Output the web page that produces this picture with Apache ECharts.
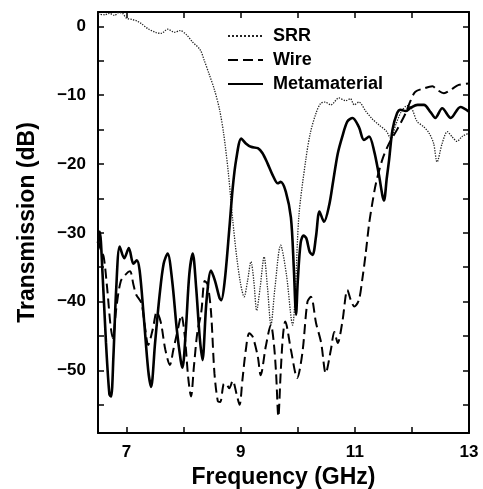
<!DOCTYPE html>
<html><head><meta charset="utf-8">
<script src="https://cdn.jsdelivr.net/npm/echarts@6/dist/echarts.min.js"></script>
<style>html,body{margin:0;padding:0;background:#fff}#c{width:483px;height:489px}</style>
</head><body><div id="c"></div>
<script>
// ---- data ----
var srrFreq = [6.50,6.62,6.70,6.79,6.86,6.93,7.00,7.10,7.18,7.26,7.37,7.52,7.61,7.72,7.84,7.94,8.05,8.15,8.29,8.36,8.45,8.54,8.63,8.70,8.78,8.86,8.93,9.00,9.06,9.12,9.18,9.23,9.28,9.34,9.41,9.47,9.53,9.60,9.70,9.80,9.91,9.96,10.02,10.14,10.22,10.32,10.40,10.48,10.58,10.72,10.84,10.92,10.99,11.07,11.19,11.30,11.42,11.55,11.63,11.72,11.82,11.92,12.00,12.09,12.21,12.30,12.38,12.44,12.53,12.62,12.70,12.79,12.88,13.00];
var srrDb   = [1.8,1.7,1.9,1.6,2.0,1.9,1.2,1.0,0.8,0.4,-0.3,-0.9,-1.0,-0.4,-0.85,-0.6,-1.2,-2.2,-3.4,-4.9,-7.0,-9.2,-12.1,-15.5,-21,-28.1,-33.5,-37.5,-39.3,-37,-34.2,-37,-41.3,-38,-33.5,-38,-43.4,-38,-31.8,-36,-43.4,-38,-27.5,-19.4,-15.5,-12.6,-11.2,-11.0,-11.4,-10.4,-10.8,-10.5,-11.4,-11.0,-12.3,-13.4,-14.3,-15.2,-16.3,-14.2,-12.3,-11.5,-12.0,-13.8,-14.6,-15.5,-17.0,-19.7,-17.0,-15.3,-16.0,-16.7,-16.0,-15.5];

var wireFreq = [6.50,6.55,6.60,6.66,6.72,6.76,6.82,6.90,6.99,7.06,7.12,7.17,7.26,7.32,7.38,7.46,7.53,7.60,7.68,7.76,7.82,7.90,7.96,8.02,8.08,8.13,8.18,8.24,8.31,8.37,8.42,8.48,8.54,8.60,8.64,8.70,8.74,8.80,8.86,8.93,8.98,9.03,9.09,9.15,9.21,9.30,9.35,9.44,9.53,9.58,9.62,9.66,9.70,9.74,9.78,9.88,9.99,10.08,10.17,10.23,10.32,10.41,10.49,10.58,10.64,10.70,10.78,10.87,10.93,10.99,11.07,11.13,11.19,11.25,11.31,11.37,11.48,11.60,11.74,11.89,11.98,12.06,12.21,12.36,12.44,12.56,12.68,12.82,13.00];
var wireDb   = [-31.0,-32.5,-33.5,-38,-43.5,-45.3,-41,-37,-36.0,-35.6,-37.5,-39,-40.2,-43.5,-46.3,-44.0,-41.5,-43,-47,-49.2,-47,-44,-42.0,-45,-51,-53.8,-49.5,-44.5,-41.5,-37.0,-37.5,-41.5,-50.4,-54.5,-54.6,-52,-51.9,-52.6,-51.5,-53.5,-55.0,-51.4,-47.0,-44.6,-45.1,-48.0,-50.7,-46.5,-43.4,-46,-50.4,-56.7,-50.4,-45,-42.9,-47.0,-51.1,-47.5,-40.0,-39.3,-43.1,-46.0,-50.4,-47.0,-44.4,-46.0,-43.0,-38.3,-39.8,-40.7,-39.8,-36.8,-33.0,-28.7,-25.5,-22.8,-19.4,-17.0,-15.0,-12.6,-10.7,-9.5,-9.0,-8.7,-9.2,-9.7,-9.2,-8.5,-8.3];

var metaFreq = [6.50,6.53,6.58,6.64,6.70,6.73,6.77,6.82,6.88,6.96,7.04,7.12,7.18,7.23,7.30,7.38,7.43,7.50,7.58,7.65,7.72,7.80,7.88,7.95,7.98,8.04,8.10,8.16,8.22,8.28,8.33,8.40,8.48,8.55,8.63,8.66,8.72,8.80,8.86,8.92,9.01,9.09,9.18,9.30,9.38,9.47,9.56,9.65,9.70,9.79,9.88,9.93,9.97,10.00,10.05,10.10,10.15,10.21,10.26,10.32,10.38,10.46,10.55,10.62,10.70,10.78,10.87,10.96,11.07,11.16,11.25,11.34,11.42,11.51,11.56,11.60,11.66,11.74,11.80,11.89,11.98,12.10,12.21,12.33,12.41,12.53,12.68,12.85,13.00];
var metaDb   = [-31.5,-29.8,-36,-46,-53.5,-53.8,-48,-38,-32.0,-33.7,-32.2,-34.5,-34.0,-35.5,-42,-50,-52.4,-46,-39,-34.5,-33.0,-37,-44,-48.6,-49.6,-44,-36,-33.0,-38,-45,-48.5,-40,-35.5,-37,-39.5,-39.8,-37,-29.5,-23.5,-19.4,-16.3,-17.0,-17.5,-17.7,-18.4,-19.9,-21.6,-22.8,-22.6,-24.0,-27.8,-35,-41.9,-37,-31.5,-30.4,-30.8,-32.8,-33.2,-30.5,-26.9,-28.4,-26,-22.5,-18.5,-16.0,-13.8,-13.3,-14.6,-16.5,-16.0,-18.2,-21.5,-25.3,-22,-19.4,-15.0,-12.6,-12.1,-12.3,-11.8,-11.4,-11.4,-12.5,-13.3,-11.9,-13.3,-11.7,-12.4];

var xTicks = [7,8,9,10,11,12,13];
var xLabels = [7,9,11,13];
var yTicks = [0,-5,-10,-15,-20,-25,-30,-35,-40,-45,-50,-55];
var yLabels = [0,-10,-20,-30,-40,-50];

function pairs(xs, ys){ return xs.map(function(x,i){ return [x, ys[i]]; }); }

var FONT = '"Liberation Sans", Arial, Helvetica, sans-serif';
var X_MIN = 6.5, X_MAX = 13, Y_MIN = -59.1, Y_MAX = 2.1;

var chart = echarts.init(document.getElementById('c'), null, {renderer:'canvas'});
function axisLine(){ return {show:true, onZero:false, lineStyle:{color:'#000', width:2}}; }
function ticks(vals){ return {show:true, customValues:vals, inside:true, length:6, lineStyle:{color:'#000', width:1.5}}; }

chart.setOption({
  animation:false,
  backgroundColor:'#fff',
  grid:{left:98, right:14, top:12, bottom:56, containLabel:false, outerBoundsMode:'none'},
  legend:{
    data:['SRR','Wire','Metamaterial'],
    orient:'vertical', left:227, top:27, padding:0,
    itemWidth:35, itemHeight:14, itemGap:6,
    itemStyle:{opacity:0},
    textStyle:{fontFamily:FONT, fontSize:18, fontWeight:'bold', color:'#000', padding:[0,0,0,5]}
  },
  xAxis:[{
    type:'value', min:X_MIN, max:X_MAX, position:'bottom',
    axisLine:axisLine(), axisTick:ticks(xTicks),
    axisLabel:{customValues:xLabels, fontFamily:FONT, fontSize:17, fontWeight:'bold', color:'#000', margin:11},
    splitLine:{show:false},
    name:'Frequency (GHz)', nameLocation:'middle', nameGap:31,
    nameTextStyle:{fontFamily:FONT, fontSize:23, fontWeight:'bold', color:'#000'}
  },{
    type:'value', min:X_MIN, max:X_MAX, position:'top',
    axisLine:axisLine(), axisTick:ticks(xTicks),
    axisLabel:{show:false}, splitLine:{show:false}
  }],
  yAxis:[{
    type:'value', min:Y_MIN, max:Y_MAX, position:'left',
    axisLine:axisLine(), axisTick:ticks(yTicks),
    axisLabel:{customValues:yLabels, fontFamily:FONT, fontSize:17, fontWeight:'bold', color:'#000', margin:12,
      formatter:function(v){ return String(v).replace('-', '\u2212'); }},
    splitLine:{show:false},
    name:'Transmission (dB)', nameLocation:'middle', nameGap:59,
    nameTextStyle:{fontFamily:FONT, fontSize:23, fontWeight:'bold', color:'#000'}
  },{
    type:'value', min:Y_MIN, max:Y_MAX, position:'right',
    axisLine:axisLine(), axisTick:ticks(yTicks),
    axisLabel:{show:false}, splitLine:{show:false}
  }],
  series:[{
    name:'SRR', type:'line', symbol:'none', smooth:0.3, clip:true,
    data:pairs(srrFreq, srrDb),
    lineStyle:{color:'#222', width:1.3, type:'dotted'},
    itemStyle:{color:'#222'}
  },{
    name:'Wire', type:'line', symbol:'none', smooth:0.3, clip:true,
    data:pairs(wireFreq, wireDb),
    lineStyle:{color:'#000', width:2, type:[10,5]},
    itemStyle:{color:'#000'}
  },{
    name:'Metamaterial', type:'line', symbol:'none', smooth:0.3, clip:true,
    data:pairs(metaFreq, metaDb),
    lineStyle:{color:'#000', width:2.6, type:'solid'},
    itemStyle:{color:'#000'}
  }]
});
</script>
</body></html>
